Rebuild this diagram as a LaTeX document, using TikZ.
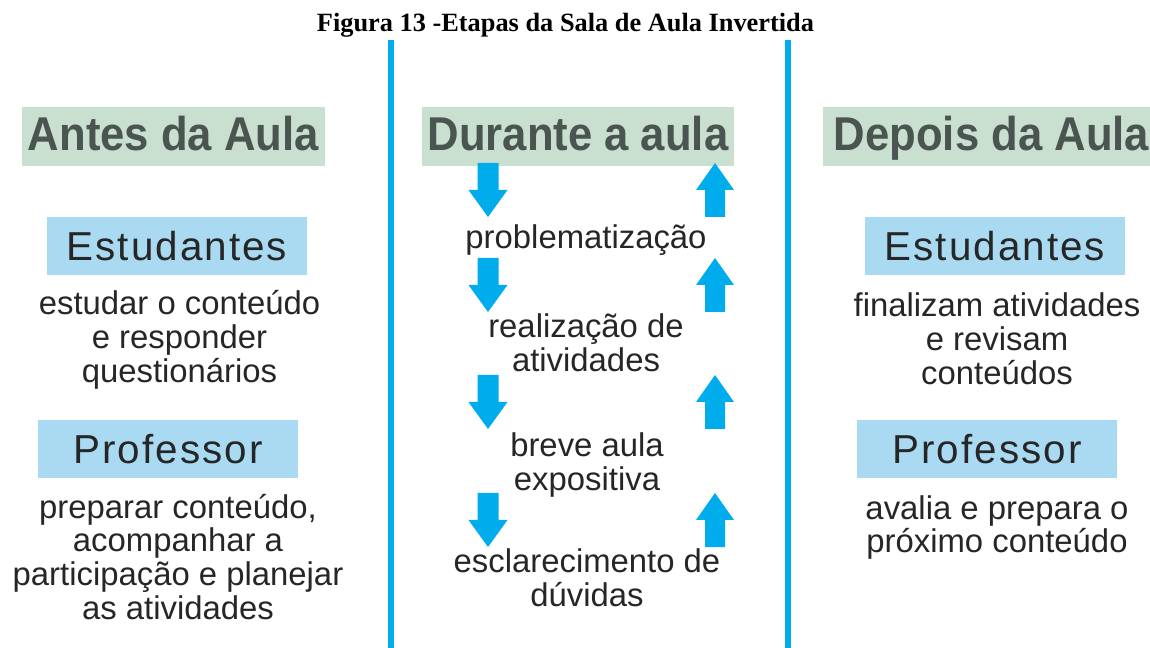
\documentclass[tikz,border=0pt]{standalone}
\usepackage{fontspec}
\setmainfont{Liberation Sans}
\newfontfamily\titulofonte{Liberation Serif}
\newfontfamily\espacada[LetterSpace=5]{Liberation Sans}
\newfontfamily\estreita[FakeStretch=0.92]{Liberation Sans}

\definecolor{azul}{RGB}{0,172,236}
\definecolor{azulclaro}{RGB}{170,218,242}
\definecolor{verde}{RGB}{201,223,208}
\definecolor{cinza}{RGB}{74,84,80}
\definecolor{texto}{RGB}{38,38,38}

\tikzset{
	cabecalho/.style={fill=verde, text=cinza, inner sep=0pt, minimum height=1.18cm,
		text height=19.5pt, text depth=4pt,
		font=\estreita\fontsize{27}{30}\selectfont\bfseries},
	papel/.style={fill=azulclaro, text=texto, inner sep=0pt, minimum width=5.22cm,
		minimum height=1.16cm, font=\espacada\fontsize{23}{26}\selectfont},
	corpo/.style={text=texto, align=center, inner sep=0pt,
		font=\fontsize{18.7}{19.3}\selectfont},
	seta/.style={fill=azul},
	divisa/.style={draw=azul, line width=3.4pt}
}

\begin{document}
\begin{tikzpicture}[x=0.02cm, y=-0.02cm]
\useasboundingbox (0,0) rectangle (1150,648);

\node[font=\titulofonte\fontsize{15}{18}\selectfont\bfseries] (titulo) at (565.5,25) {Figura 13 -Etapas da Sala de Aula Invertida};

% divisorias
\draw[divisa] (391,40) -- (391,648);
\draw[divisa] (788,40) -- (788,648);

% cabecalhos
\node[cabecalho, minimum width=6.06cm] (antes) at (173.5,136.5) {Antes da Aula};
\node[cabecalho, minimum width=6.24cm] (durante) at (578,136.5) {Durante a aula};
\node[cabecalho, minimum width=6.74cm] (depois) at (991.5,136.5) {Depois da Aula};

% antes da aula
\node[papel] (estA) at (177,246) {Estudantes};
\node[corpo] (estAtxt) at (179.5,340) {estudar o conteúdo\\e responder\\questionários};
\node[papel] (profA) at (168,449) {Professor};
\node[corpo] (profAtxt) at (178,557) {preparar conteúdo,\\acompanhar a\\participação e planejar\\as atividades};

% durante a aula
\node[corpo] (prob) at (586,240) {problematização};
\node[corpo] (ativ) at (586,343) {realização de\\atividades};
\node[corpo] (expo) at (587,465) {breve aula\\expositiva};
\node[corpo] (duv) at (587,578) {esclarecimento de\\dúvidas};

\foreach \y in {163,258,375,493}{
	\fill[seta] (477.5,\y) -- (498.5,\y) -- (498.5,{\y+27}) -- (507.5,{\y+27})
		-- (488,{\y+54}) -- (468.5,{\y+27}) -- (477.5,{\y+27}) -- cycle;
	\fill[seta] (715,\y) -- (734,{\y+27}) -- (725,{\y+27}) -- (725,{\y+54})
		-- (705,{\y+54}) -- (705,{\y+27}) -- (696,{\y+27}) -- cycle;
}

% depois da aula
\node[papel] (estD) at (995,246) {Estudantes};
\node[corpo] (estDtxt) at (997,339) {finalizam atividades\\e revisam\\conteúdos};
\node[papel] (profD) at (987,449) {Professor};
\node[corpo] (profDtxt) at (997,527.5) {avalia e prepara o\\próximo conteúdo};
\end{tikzpicture}
\end{document}
